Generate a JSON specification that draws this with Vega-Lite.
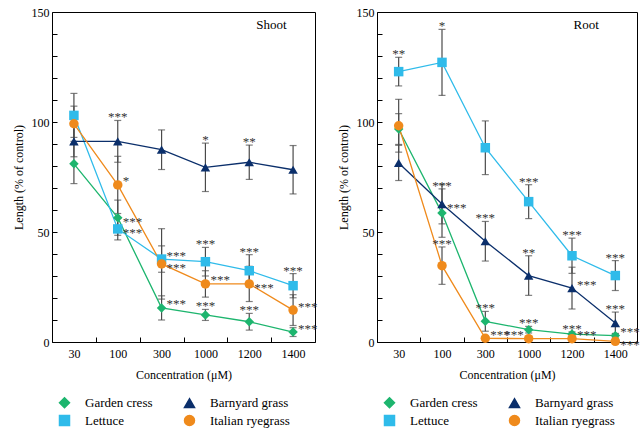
{
  "$schema": "https://vega.github.io/schema/vega-lite/v6.json",
  "background": "white",
  "padding": {"left": 11, "top": 5, "right": 5, "bottom": 5},
  "config": {
    "font": "Liberation Serif",
    "view": {"stroke": "black", "strokeWidth": 1},
    "axis": {"grid": false, "domain": false, "ticks": true, "tickWidth": 1, "tickOpacity": 1, "labelFont": "Liberation Serif", "titleFont": "Liberation Serif", "labelFontSize": 12, "titleFontSize": 12, "titleFontWeight": "normal", "labelColor": "black", "titleColor": "black", "tickColor": "black"},
    "legend": {"labelFont": "Liberation Serif", "labelFontSize": 13, "labelColor": "black"},
    "title": {"font": "Liberation Serif", "fontWeight": "normal", "fontSize": 13, "color": "black"}
  },
  "datasets": {
    "pts": [
      {"panel": "Shoot", "species": "Garden cress", "conc": "30", "mean": 81, "err": 9, "sig": "", "place": "none"},
      {"panel": "Shoot", "species": "Garden cress", "conc": "100", "mean": 56.5, "err": 8, "sig": "***", "place": "right"},
      {"panel": "Shoot", "species": "Garden cress", "conc": "300", "mean": 15.5, "err": 5.5, "sig": "***", "place": "upright"},
      {"panel": "Shoot", "species": "Garden cress", "conc": "1000", "mean": 12.3, "err": 2.5, "sig": "***", "place": "above"},
      {"panel": "Shoot", "species": "Garden cress", "conc": "1200", "mean": 9.2, "err": 3.8, "sig": "***", "place": "above"},
      {"panel": "Shoot", "species": "Garden cress", "conc": "1400", "mean": 4.5, "err": 2, "sig": "***", "place": "upright"},
      {"panel": "Shoot", "species": "Lettuce", "conc": "30", "mean": 103, "err": 10, "sig": "", "place": "none"},
      {"panel": "Shoot", "species": "Lettuce", "conc": "100", "mean": 51.4, "err": 5, "sig": "***", "place": "right"},
      {"panel": "Shoot", "species": "Lettuce", "conc": "300", "mean": 37.7, "err": 6, "sig": "***", "place": "upright"},
      {"panel": "Shoot", "species": "Lettuce", "conc": "1000", "mean": 36.5, "err": 6.5, "sig": "***", "place": "above"},
      {"panel": "Shoot", "species": "Lettuce", "conc": "1200", "mean": 32.4, "err": 7.3, "sig": "***", "place": "above"},
      {"panel": "Shoot", "species": "Lettuce", "conc": "1400", "mean": 25.6, "err": 5.5, "sig": "***", "place": "above"},
      {"panel": "Shoot", "species": "Barnyard grass", "conc": "30", "mean": 91.2, "err": 7, "sig": "", "place": "none"},
      {"panel": "Shoot", "species": "Barnyard grass", "conc": "100", "mean": 91.2, "err": 9.5, "sig": "***", "place": "above"},
      {"panel": "Shoot", "species": "Barnyard grass", "conc": "300", "mean": 87.4, "err": 9, "sig": "", "place": "none"},
      {"panel": "Shoot", "species": "Barnyard grass", "conc": "1000", "mean": 79.4, "err": 11, "sig": "*", "place": "above"},
      {"panel": "Shoot", "species": "Barnyard grass", "conc": "1200", "mean": 81.7, "err": 7.8, "sig": "**", "place": "above"},
      {"panel": "Shoot", "species": "Barnyard grass", "conc": "1400", "mean": 78.3, "err": 11, "sig": "", "place": "none"},
      {"panel": "Shoot", "species": "Italian ryegrass", "conc": "30", "mean": 99.2, "err": 8, "sig": "", "place": "none"},
      {"panel": "Shoot", "species": "Italian ryegrass", "conc": "100", "mean": 71.4, "err": 13, "sig": "*", "place": "upright"},
      {"panel": "Shoot", "species": "Italian ryegrass", "conc": "300", "mean": 35.5, "err": 16, "sig": "***", "place": "right"},
      {"panel": "Shoot", "species": "Italian ryegrass", "conc": "1000", "mean": 26.4, "err": 6, "sig": "***", "place": "upright"},
      {"panel": "Shoot", "species": "Italian ryegrass", "conc": "1200", "mean": 26.4, "err": 8, "sig": "***", "place": "right"},
      {"panel": "Shoot", "species": "Italian ryegrass", "conc": "1400", "mean": 14.5, "err": 7, "sig": "***", "place": "upright"},
      {"panel": "Root", "species": "Garden cress", "conc": "30", "mean": 96.8, "err": 7, "sig": "", "place": "none"},
      {"panel": "Root", "species": "Garden cress", "conc": "100", "mean": 58.6, "err": 11, "sig": "***", "place": "above"},
      {"panel": "Root", "species": "Garden cress", "conc": "300", "mean": 9.4, "err": 4.5, "sig": "***", "place": "above"},
      {"panel": "Root", "species": "Garden cress", "conc": "1000", "mean": 5.6, "err": 1.5, "sig": "***", "place": "above"},
      {"panel": "Root", "species": "Garden cress", "conc": "1200", "mean": 3.6, "err": 1, "sig": "***", "place": "above"},
      {"panel": "Root", "species": "Garden cress", "conc": "1400", "mean": 2.9, "err": 1, "sig": "***", "place": "upright"},
      {"panel": "Root", "species": "Lettuce", "conc": "30", "mean": 122.9, "err": 6.5, "sig": "**", "place": "above"},
      {"panel": "Root", "species": "Lettuce", "conc": "100", "mean": 127.1, "err": 15, "sig": "*", "place": "above"},
      {"panel": "Root", "species": "Lettuce", "conc": "300", "mean": 88.3, "err": 12.2, "sig": "", "place": "none"},
      {"panel": "Root", "species": "Lettuce", "conc": "1000", "mean": 63.8, "err": 7.7, "sig": "***", "place": "above"},
      {"panel": "Root", "species": "Lettuce", "conc": "1200", "mean": 39.2, "err": 8, "sig": "***", "place": "above"},
      {"panel": "Root", "species": "Lettuce", "conc": "1400", "mean": 30.2, "err": 6.8, "sig": "***", "place": "above"},
      {"panel": "Root", "species": "Barnyard grass", "conc": "30", "mean": 81.4, "err": 8, "sig": "", "place": "none"},
      {"panel": "Root", "species": "Barnyard grass", "conc": "100", "mean": 62.7, "err": 9, "sig": "***", "place": "right"},
      {"panel": "Root", "species": "Barnyard grass", "conc": "300", "mean": 45.8, "err": 9, "sig": "***", "place": "above"},
      {"panel": "Root", "species": "Barnyard grass", "conc": "1000", "mean": 30.2, "err": 9, "sig": "**", "place": "above"},
      {"panel": "Root", "species": "Barnyard grass", "conc": "1200", "mean": 24.5, "err": 9.5, "sig": "***", "place": "upright"},
      {"panel": "Root", "species": "Barnyard grass", "conc": "1400", "mean": 8.6, "err": 5, "sig": "***", "place": "above"},
      {"panel": "Root", "species": "Italian ryegrass", "conc": "30", "mean": 98.3, "err": 12, "sig": "", "place": "none"},
      {"panel": "Root", "species": "Italian ryegrass", "conc": "100", "mean": 34.7, "err": 8.5, "sig": "***", "place": "above"},
      {"panel": "Root", "species": "Italian ryegrass", "conc": "300", "mean": 1.7, "err": 1, "sig": "***", "place": "upright"},
      {"panel": "Root", "species": "Italian ryegrass", "conc": "1000", "mean": 1.5, "err": 1, "sig": "***", "place": "upleft"},
      {"panel": "Root", "species": "Italian ryegrass", "conc": "1200", "mean": 1.5, "err": 1, "sig": "***", "place": "upright"},
      {"panel": "Root", "species": "Italian ryegrass", "conc": "1400", "mean": 0.3, "err": 1, "sig": "***", "place": "right"}
    ]
  },
  "spacing": 17,
  "resolve": {"scale": {"color": "independent", "shape": "independent"}, "legend": {"color": "independent", "shape": "independent"}},
  "hconcat": [
    {
      "width": 263, "height": 330,
      "title": {"text": "Shoot", "anchor": "end", "offset": -26, "dx": -31},
      "data": {"name": "pts"},
      "transform": [
        {"filter": "datum.panel === 'Shoot'"},
        {"calculate": "datum.mean - datum.err", "as": "lo"},
        {"calculate": "datum.mean + datum.err", "as": "hi"}
      ],
      "encoding": {
        "x": {"field": "conc", "type": "ordinal", "sort": ["30", "100", "300", "1000", "1200", "1400"], "scale": {"paddingInner": 0, "paddingOuter": 0}, "axis": {"title": "Concentration (μM)", "labelAngle": 0, "ticks": true, "tickBand": "extent", "tickSize": -5, "labelPadding": 11, "titlePadding": 10}},
        "color": {"field": "species", "type": "nominal", "scale": {"domain": ["Garden cress", "Barnyard grass", "Lettuce", "Italian ryegrass"], "range": ["#1db56e", "#0b2f6b", "#2fbbea", "#ef8a1c"]},
          "legend": {"orient": "none", "legendX": 6, "legendY": 384, "direction": "horizontal", "columns": 2, "title": null, "symbolSize": 100, "labelOffset": 14, "columnPadding": 28, "rowPadding": 1}}
      },
      "layer": [
        {"mark": {"type": "rule", "strokeWidth": 1.2},
         "encoding": {"color": {"value": "#4a4a4a"}, "y": {"field": "lo", "type": "quantitative", "scale": {"domain": [0, 150], "nice": false}, "axis": {"title": "Length (% of control)", "tickCount": 15, "ticks": true, "labelExpr": "indexof(['0','50','100','150'], datum.label) >= 0 ? datum.label : ''", "labelOverlap": false, "labelBound": false, "tickSize": -5, "labelPadding": 8, "titlePadding": 6}}, "y2": {"field": "hi"}}},
        {"mark": {"type": "tick", "size": 7, "thickness": 1.2, "orient": "horizontal"}, "encoding": {"color": {"value": "#4a4a4a"}, "y": {"field": "lo", "type": "quantitative"}}},
        {"mark": {"type": "tick", "size": 7, "thickness": 1.2, "orient": "horizontal"}, "encoding": {"color": {"value": "#4a4a4a"}, "y": {"field": "hi", "type": "quantitative"}}},
        {"mark": {"type": "line", "strokeWidth": 1.3},
         "encoding": {"y": {"field": "mean", "type": "quantitative"}}},
        {"mark": {"type": "point", "filled": true, "size": 90, "opacity": 1},
         "encoding": {"y": {"field": "mean", "type": "quantitative"},
           "shape": {"field": "species", "type": "nominal", "scale": {"domain": ["Garden cress", "Barnyard grass", "Lettuce", "Italian ryegrass"], "range": ["diamond", "triangle-up", "square", "circle"]}, "legend": null}}},
        {"transform": [{"filter": "datum.place === 'above'"}], "mark": {"type": "text", "align": "center", "baseline": "middle", "dy": -3, "fontSize": 13}, "encoding": {"color": {"value": "#333"}, "y": {"field": "hi", "type": "quantitative"}, "text": {"field": "sig"}}},
        {"transform": [{"filter": "datum.place === 'right'"}], "mark": {"type": "text", "align": "left", "baseline": "middle", "dx": 5, "dy": 4, "fontSize": 13}, "encoding": {"color": {"value": "#333"}, "y": {"field": "mean", "type": "quantitative"}, "text": {"field": "sig"}}},
        {"transform": [{"filter": "datum.place === 'upright'"}], "mark": {"type": "text", "align": "left", "baseline": "middle", "dx": 5, "dy": -3.5, "fontSize": 13}, "encoding": {"color": {"value": "#333"}, "y": {"field": "mean", "type": "quantitative"}, "text": {"field": "sig"}}},
        {"transform": [{"filter": "datum.place === 'upleft'"}], "mark": {"type": "text", "align": "right", "baseline": "middle", "dx": -5, "dy": -3.5, "fontSize": 13}, "encoding": {"color": {"value": "#333"}, "y": {"field": "mean", "type": "quantitative"}, "text": {"field": "sig"}}}
      ]
    },
    {
      "width": 260, "height": 330,
      "title": {"text": "Root", "anchor": "end", "offset": -26, "dx": -41},
      "data": {"name": "pts"},
      "transform": [
        {"filter": "datum.panel === 'Root'"},
        {"calculate": "datum.mean - datum.err", "as": "lo"},
        {"calculate": "datum.mean + datum.err", "as": "hi"}
      ],
      "encoding": {
        "x": {"field": "conc", "type": "ordinal", "sort": ["30", "100", "300", "1000", "1200", "1400"], "scale": {"paddingInner": 0, "paddingOuter": 0}, "axis": {"title": "Concentration (μM)", "labelAngle": 0, "ticks": true, "tickBand": "extent", "tickSize": -5, "labelPadding": 11, "titlePadding": 10}},
        "color": {"field": "species", "type": "nominal", "scale": {"domain": ["Garden cress", "Barnyard grass", "Lettuce", "Italian ryegrass"], "range": ["#1db56e", "#0b2f6b", "#2fbbea", "#ef8a1c"]},
          "legend": {"orient": "none", "legendX": 6, "legendY": 384, "direction": "horizontal", "columns": 2, "title": null, "symbolSize": 100, "labelOffset": 14, "columnPadding": 28, "rowPadding": 1}}
      },
      "layer": [
        {"mark": {"type": "rule", "strokeWidth": 1.2},
         "encoding": {"color": {"value": "#4a4a4a"}, "y": {"field": "lo", "type": "quantitative", "scale": {"domain": [0, 150], "nice": false}, "axis": {"title": "Length (% of control)", "tickCount": 15, "ticks": true, "labelExpr": "indexof(['0','50','100','150'], datum.label) >= 0 ? datum.label : ''", "labelOverlap": false, "labelBound": false, "tickSize": -5, "labelPadding": 8, "titlePadding": 6}}, "y2": {"field": "hi"}}},
        {"mark": {"type": "tick", "size": 7, "thickness": 1.2, "orient": "horizontal"}, "encoding": {"color": {"value": "#4a4a4a"}, "y": {"field": "lo", "type": "quantitative"}}},
        {"mark": {"type": "tick", "size": 7, "thickness": 1.2, "orient": "horizontal"}, "encoding": {"color": {"value": "#4a4a4a"}, "y": {"field": "hi", "type": "quantitative"}}},
        {"mark": {"type": "line", "strokeWidth": 1.3},
         "encoding": {"y": {"field": "mean", "type": "quantitative"}}},
        {"mark": {"type": "point", "filled": true, "size": 90, "opacity": 1},
         "encoding": {"y": {"field": "mean", "type": "quantitative"},
           "shape": {"field": "species", "type": "nominal", "scale": {"domain": ["Garden cress", "Barnyard grass", "Lettuce", "Italian ryegrass"], "range": ["diamond", "triangle-up", "square", "circle"]}, "legend": null}}},
        {"transform": [{"filter": "datum.place === 'above'"}], "mark": {"type": "text", "align": "center", "baseline": "middle", "dy": -3, "fontSize": 13}, "encoding": {"color": {"value": "#333"}, "y": {"field": "hi", "type": "quantitative"}, "text": {"field": "sig"}}},
        {"transform": [{"filter": "datum.place === 'right'"}], "mark": {"type": "text", "align": "left", "baseline": "middle", "dx": 5, "dy": 4, "fontSize": 13}, "encoding": {"color": {"value": "#333"}, "y": {"field": "mean", "type": "quantitative"}, "text": {"field": "sig"}}},
        {"transform": [{"filter": "datum.place === 'upright'"}], "mark": {"type": "text", "align": "left", "baseline": "middle", "dx": 5, "dy": -3.5, "fontSize": 13}, "encoding": {"color": {"value": "#333"}, "y": {"field": "mean", "type": "quantitative"}, "text": {"field": "sig"}}},
        {"transform": [{"filter": "datum.place === 'upleft'"}], "mark": {"type": "text", "align": "right", "baseline": "middle", "dx": -5, "dy": -3.5, "fontSize": 13}, "encoding": {"color": {"value": "#333"}, "y": {"field": "mean", "type": "quantitative"}, "text": {"field": "sig"}}}
      ]
    }
  ]
}
